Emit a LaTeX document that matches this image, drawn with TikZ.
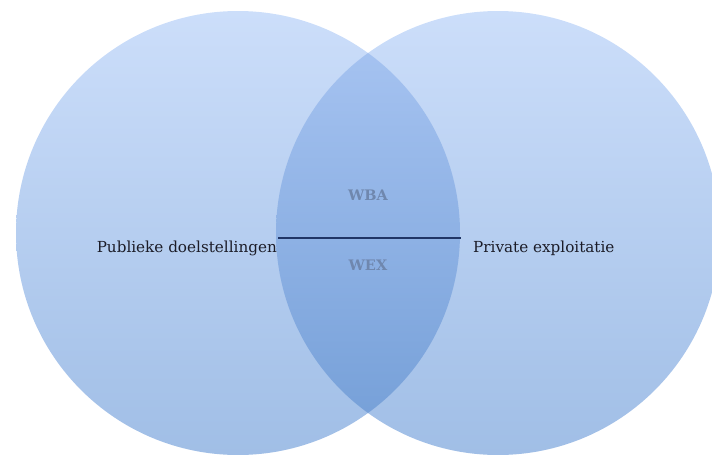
\documentclass[tikz,border=0pt]{standalone}
\usepackage{fontspec}
\setmainfont{DejaVu Serif}
\definecolor{ctop}{HTML}{CCDEFA}
\definecolor{cbot}{HTML}{A0BEE6}
\definecolor{ltop}{HTML}{AAC6F3}
\definecolor{lbot}{HTML}{729DD6}
\definecolor{midtxt}{HTML}{6F87AE}
\definecolor{linecol}{HTML}{1F3566}
\definecolor{txt}{HTML}{1C1C28}
\begin{document}
\begin{tikzpicture}[x=1pt,y=-1pt,
  setcircle/.style={circle, minimum size=444pt, inner sep=0pt, top color=ctop, bottom color=cbot, draw=none},
  sidelabel/.style={font=\fontsize{15.2}{17}\selectfont, text=txt, inner sep=0pt},
  midlabel/.style={font=\bfseries\fontsize{14.5}{17}\selectfont, text=midtxt, inner sep=0pt}]
\useasboundingbox (0,0) rectangle (712,455);
\node[setcircle] (L) at (238,233) {};
\node[setcircle] (R) at (498,233) {};
\begin{scope}
  \clip (L.center) circle (222pt);
  \shade[top color=ltop, bottom color=lbot] (R.center) circle (222pt);
\end{scope}
\coordinate (a) at (278,238);
\coordinate (b) at (461,238);
\draw[linecol, line width=1.3pt] (a) -- (b);
\node[midlabel] (wba) at (368,195) {WBA};
\node[midlabel] (wex) at (368,265) {WEX};
\node[sidelabel, anchor=east] (pub) at (277,248) {Publieke doelstellingen};
\node[sidelabel, anchor=west] (priv) at (473,248) {Private exploitatie};
\end{tikzpicture}
\end{document}
